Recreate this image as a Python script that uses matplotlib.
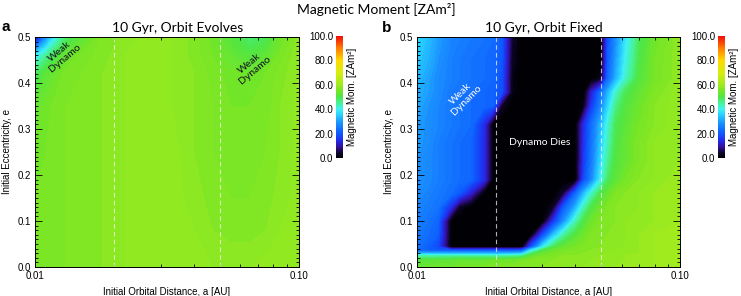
import numpy as np
import matplotlib
matplotlib.use('Agg')
import matplotlib.pyplot as plt
from matplotlib.colors import LinearSegmentedColormap, Normalize
from matplotlib.cm import ScalarMappable
from matplotlib.ticker import FixedLocator, MultipleLocator, NullFormatter, FormatStrFormatter

plt.rcParams['font.family'] = ['Liberation Sans', 'DejaVu Sans']
TITLE_FONT = ['Lato', 'DejaVu Sans']

# ---- data ----
# panel a: 10 Gyr, orbit evolves
a_evolves = [0.010, 0.011, 0.012, 0.013, 0.015, 0.018, 0.022, 0.027,
             0.033, 0.040, 0.047, 0.055, 0.065, 0.075, 0.085, 0.100]
e_evolves = [0.0, 0.08, 0.15, 0.25, 0.35, 0.42, 0.46, 0.50]
mom_evolves = [
    [55, 55.5, 56, 56, 56.5, 57, 58, 59, 59, 58.5, 58, 58, 58, 58.5, 59, 59],
    [55, 55.5, 56, 56, 56.5, 57, 58, 59, 59, 58, 57, 56.5, 56.5, 57, 58, 59],
    [55, 55.5, 56, 56, 56.5, 57, 58, 59, 58.5, 57.5, 56.5, 56, 56, 56.5, 57.5, 58.5],
    [54.5, 55, 55.5, 56, 56.5, 57, 58, 59, 58.5, 57, 56, 55.5, 55.5, 56, 57, 58.5],
    [53, 54.5, 55.5, 56, 56.5, 57, 58, 59, 58, 57, 56, 55, 55, 55.5, 57, 58.5],
    [48, 52, 54, 55.5, 56, 57, 58, 58.5, 58, 57, 55.5, 54.5, 54, 55, 56.5, 58],
    [38, 45, 50, 53, 55.5, 56.5, 58, 58.5, 58, 56.5, 55, 53, 51, 52.5, 55.5, 58],
    [6, 28, 40, 47, 52, 56, 57.5, 58.5, 58, 56.5, 54.5, 51, 47, 49, 54, 57.5],
]

# panel b: 10 Gyr, orbit fixed
a_fixed = [0.010, 0.012, 0.0135, 0.0145, 0.016, 0.018, 0.0195, 0.021,
           0.023, 0.025, 0.027, 0.030, 0.033, 0.036, 0.040, 0.043,
           0.046, 0.050, 0.053, 0.057, 0.062, 0.070, 0.080, 0.100]
e_fixed = [0.0, 0.015, 0.024, 0.030, 0.036, 0.044, 0.07, 0.10, 0.13, 0.16,
           0.19, 0.23, 0.27, 0.31, 0.35, 0.38, 0.41, 0.45, 0.50]
mom_fixed = [
    [53, 54, 54, 55, 55, 55, 56, 56, 56, 57, 57, 57, 58, 58, 58, 58, 59, 59, 59, 59, 60, 60, 60, 61],
    [51, 52, 52, 53, 53, 53, 54, 54, 54, 55, 56, 57, 57, 58, 58, 58, 58, 59, 59, 59, 59, 60, 60, 61],
    [44, 44, 44, 44, 44, 44, 44, 44, 45, 46, 52, 55, 56, 57, 57, 58, 58, 58, 59, 59, 59, 60, 60, 61],
    [32, 31, 31, 31, 31, 31, 31, 31, 32, 33, 46, 53, 55, 56, 57, 57, 58, 58, 58, 59, 59, 59, 60, 61],
    [22, 20, 20, 20, 20, 20, 20, 20, 20, 21, 38, 50, 54, 55, 56, 57, 57, 58, 58, 58, 59, 59, 60, 61],
    [24, 18, 0, 0, 0, 0, 0, 0, 0, 0, 18, 38, 49, 53, 55, 56, 57, 57, 58, 58, 58, 59, 60, 61],
    [25, 21, 0, 0, 0, 0, 0, 0, 0, 0, 0, 18, 34, 44, 51, 54, 56, 57, 57, 58, 58, 59, 60, 61],
    [26, 22, 0, 0, 0, 0, 0, 0, 0, 0, 0, 0, 15, 28, 43, 50, 54, 56, 57, 57, 58, 59, 59, 60],
    [27, 24, 14, 3, 0, 0, 0, 0, 0, 0, 0, 0, 3, 20, 32, 43, 50, 54, 56, 57, 58, 58, 59, 60],
    [28, 25, 23, 20, 12, 0, 0, 0, 0, 0, 0, 0, 0, 4, 22, 33, 42, 50, 53, 56, 57, 58, 59, 60],
    [29, 26, 24, 23, 22, 14, 0, 0, 0, 0, 0, 0, 0, 0, 0, 18, 27, 40, 48, 52, 55, 57, 58, 60],
    [29, 26, 24, 23, 22, 14, 0, 0, 0, 0, 0, 0, 0, 0, 0, 16, 25, 37, 45, 51, 53, 56, 58, 59],
    [30, 26, 24, 23, 22, 14, 0, 0, 0, 0, 0, 0, 0, 0, 0, 15, 24, 35, 43, 50, 53, 56, 58, 59],
    [30, 27, 25, 24, 23, 14, 0, 0, 0, 0, 0, 0, 0, 0, 0, 14, 23, 33, 41, 49, 52, 55, 57, 59],
    [31, 27, 25, 24, 23, 22, 21, 3, 0, 0, 0, 0, 0, 0, 0, 2, 16, 27, 36, 46, 51, 54, 57, 59],
    [32, 28, 25, 24, 23, 22, 21, 19, 2, 0, 0, 0, 0, 0, 0, 0, 12, 24, 32, 42, 49, 53, 56, 59],
    [33, 28, 26, 25, 24, 23, 22, 19, 2, 0, 0, 0, 0, 0, 0, 0, 0, 3, 22, 32, 42, 51, 55, 58],
    [35, 29, 26, 25, 24, 23, 22, 20, 3, 0, 0, 0, 0, 0, 0, 0, 0, 0, 20, 30, 40, 50, 55, 58],
    [37, 30, 27, 26, 25, 24, 23, 20, 4, 0, 0, 0, 0, 0, 0, 0, 0, 0, 19, 28, 38, 49, 54, 58],
]

cbar_ticks = [0, 20, 40, 60, 80, 100]
dashed_a = [0.02, 0.05]

# IDL-like rainbow: black -> indigo -> blue -> cyan -> green -> yellow -> red
cmap = LinearSegmentedColormap.from_list('idl_rainbow', [
    (0.00, (0.00, 0.00, 0.00)),
    (0.04, (0.06, 0.02, 0.18)),
    (0.09, (0.20, 0.06, 0.60)),
    (0.14, (0.14, 0.16, 0.92)),
    (0.20, (0.05, 0.35, 1.00)),
    (0.28, (0.10, 0.55, 1.00)),
    (0.35, (0.15, 0.80, 1.00)),
    (0.40, (0.25, 0.95, 0.95)),
    (0.45, (0.28, 0.95, 0.60)),
    (0.50, (0.30, 0.90, 0.28)),
    (0.55, (0.46, 0.90, 0.15)),
    (0.60, (0.62, 0.92, 0.12)),
    (0.70, (0.84, 0.93, 0.06)),
    (0.80, (1.00, 0.85, 0.00)),
    (0.90, (1.00, 0.50, 0.00)),
    (1.00, (0.95, 0.05, 0.05)),
])
levels = np.arange(0, 101, 1)

W, H = 741, 296
fig = plt.figure(figsize=(W / 100, H / 100), dpi=100)


def box(x0, y0, x1, y1):
    return [x0 / W, 1 - y1 / H, (x1 - x0) / W, (y1 - y0) / H]


def draw_panel(ax, cax, a, e, mom):
    norm = Normalize(0, 100)
    ax.contourf(a, e, np.array(mom), levels=levels, cmap=cmap, norm=norm)
    ax.set_xscale('log')
    ax.set_xlim(0.01, 0.1)
    ax.set_ylim(0, 0.5)
    for x in dashed_a:
        ax.axvline(x, color='white', ls=(0, (4, 3)), lw=0.8, alpha=0.7)
    ax.xaxis.set_major_locator(FixedLocator([0.01, 0.1]))
    ax.set_xticklabels(['0.01', '0.10'])
    ax.xaxis.set_minor_locator(FixedLocator([0.02, 0.03, 0.04, 0.05, 0.06, 0.07, 0.08, 0.09]))
    ax.xaxis.set_minor_formatter(NullFormatter())
    ax.yaxis.set_major_locator(MultipleLocator(0.1))
    ax.yaxis.set_minor_locator(MultipleLocator(0.01))
    ax.yaxis.set_major_formatter(FormatStrFormatter('%.1f'))
    ax.tick_params(which='both', direction='in', top=True, right=True,
                   labelsize=7, width=0.6, pad=3)
    ax.tick_params(which='major', length=5)
    ax.tick_params(which='minor', length=2.5)
    for s in ax.spines.values():
        s.set_linewidth(0.7)
    ax.set_xlabel('Initial Orbital Distance, a [AU]', fontsize=7, labelpad=4)
    ax.set_ylabel('Initial Eccentricity, e', fontsize=7, labelpad=4)

    cb = fig.colorbar(ScalarMappable(norm=Normalize(0, 100), cmap=cmap), cax=cax)
    cb.set_ticks(cbar_ticks, labels=['%.1f' % t for t in cbar_ticks])
    cb.ax.yaxis.set_ticks_position('left')
    cb.ax.yaxis.set_label_position('right')
    cb.ax.tick_params(length=0, labelsize=7, pad=2)
    cb.outline.set_visible(False)
    cb.set_label('Magnetic Mom. [ZAm²]', fontsize=7, labelpad=3)


ax_a = fig.add_axes(box(35, 37, 299, 267))
ax_b = fig.add_axes(box(417, 37, 680, 267))
cax_a = fig.add_axes(box(336, 36, 343, 158))
cax_b = fig.add_axes(box(718, 36, 725, 158))

draw_panel(ax_a, cax_a, a_evolves, e_evolves, mom_evolves)
draw_panel(ax_b, cax_b, a_fixed, e_fixed, mom_fixed)

# annotations
ax_a.text(0.0127, 0.462, 'Weak\nDynamo', rotation=40, ha='center', va='center',
          fontsize=7.5, color='#111122', family=TITLE_FONT, linespacing=1.0)
ax_a.text(0.0664, 0.435, 'Weak\nDynamo', rotation=40, ha='center', va='center',
          fontsize=7.5, color='#111122', family=TITLE_FONT, linespacing=1.0)
ax_b.text(0.0150, 0.370, 'Weak\nDynamo', rotation=45, ha='center', va='center',
          fontsize=7.5, color='white', family=TITLE_FONT, linespacing=1.0)
ax_b.text(0.0294, 0.270, 'Dynamo Dies', ha='center', va='center',
          fontsize=7.5, color='white', family=TITLE_FONT)

# titles
fig.text(376 / W, 1 - 10 / H, 'Magnetic Moment [ZAm²]', ha='center', va='center',
         fontsize=10, family=TITLE_FONT)
fig.text(178 / W, 1 - 28 / H, '10 Gyr, Orbit Evolves', ha='center', va='center',
         fontsize=10, family=TITLE_FONT)
fig.text(544 / W, 1 - 28 / H, '10 Gyr, Orbit Fixed', ha='center', va='center',
         fontsize=10, family=TITLE_FONT)
fig.text(6 / W, 1 - 27 / H, 'a', ha='center', va='center', fontsize=11, fontweight='bold')
fig.text(387 / W, 1 - 28 / H, 'b', ha='center', va='center', fontsize=11, fontweight='bold')

fig.savefig('out.png', dpi=100)
